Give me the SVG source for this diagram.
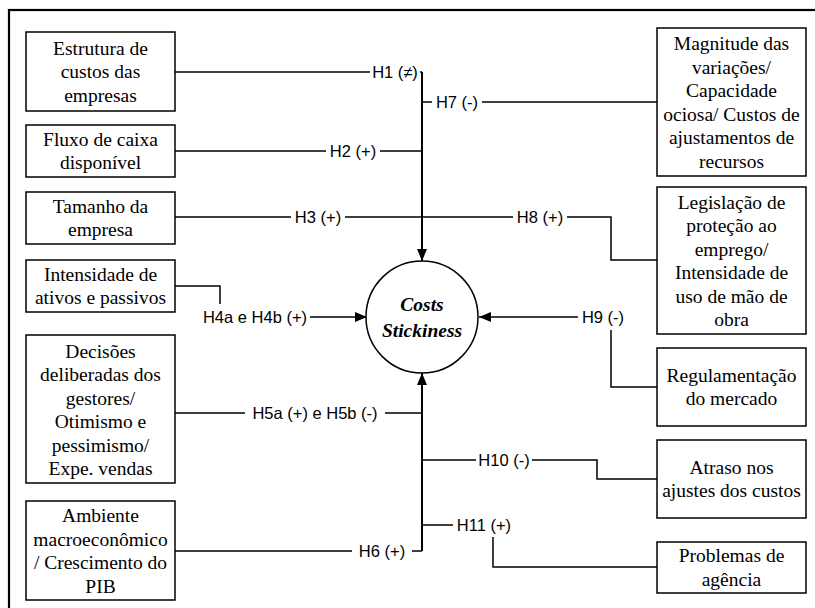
<svg xmlns="http://www.w3.org/2000/svg" width="815" height="608" viewBox="0 0 815 608">
  <style>
    .box { fill: #fff; stroke: #000; stroke-width: 1.5; }
    .bt { font-family: 'Liberation Serif', 'DejaVu Serif', 'Times New Roman', serif; font-size: 19.5px; text-anchor: middle; fill: #000; }
    .core { font-family: 'Liberation Serif', 'DejaVu Serif', 'Times New Roman', serif; font-size: 19.5px; font-weight: bold; font-style: italic; text-anchor: middle; fill: #000; }
    .lbl { font-family: 'Liberation Sans', Arial, sans-serif; font-size: 16.5px; text-anchor: middle; fill: #000; }
    .ln { fill: none; stroke: #000; stroke-width: 1.5; }
    .trunk { fill: none; stroke: #000; stroke-width: 2; }
  </style>
  <defs>
    <marker id="arrow" markerUnits="userSpaceOnUse" markerWidth="13" markerHeight="11" refX="12" refY="5" orient="auto">
      <path d="M0,0 L12,5 L0,10 z" fill="#000"/>
    </marker>
  </defs>

  <rect width="815" height="608" fill="#fff"/>
  <!-- outer frame -->
  <rect x="9" y="10" width="830" height="640" fill="none" stroke="#000" stroke-width="2.2"/>

  <!-- connectors -->
  <g id="connectors">
    <!-- H1 and upper trunk -->
    <path class="ln" d="M175,72 H370 M420,72 H422"/>
    <path class="trunk" d="M422,72 V261" marker-end="url(#arrow)"/>
    <!-- H7 -->
    <path class="ln" d="M422,102 H432 M482,102 H657"/>
    <!-- H2 -->
    <path class="ln" d="M175,151 H326 M380,151 H422"/>
    <!-- H3 / H8 -->
    <path class="ln" d="M175,217 H291 M345,217 H513 M567,217 H611 V260 H657"/>
    <!-- H4a e H4b -->
    <path class="ln" d="M175,286 H220 V304"/>
    <path class="ln" d="M310,317 H367" marker-end="url(#arrow)"/>
    <!-- H5a e H5b -->
    <path class="ln" d="M175,413 H245 M385,413 H422"/>
    <!-- H9 -->
    <path class="ln" d="M578,317 H479" marker-end="url(#arrow)"/>
    <path class="ln" d="M611,330 V387 H657"/>
    <!-- H6 and lower trunk -->
    <path class="ln" d="M175,551 H352 M412,551 H422"/>
    <path class="trunk" d="M422,551 V373" marker-end="url(#arrow)"/>
    <!-- H10 -->
    <path class="ln" d="M422,460 H476 M532,460 H597 V479 H657"/>
    <!-- H11 -->
    <path class="ln" d="M422,525 H453 M493,537 V567 H657"/>

    <text class="lbl" x="395" y="78">H1 (≠)</text>
    <text class="lbl" x="457" y="108">H7 (-)</text>
    <text class="lbl" x="353" y="157">H2 (+)</text>
    <text class="lbl" x="318" y="223">H3 (+)</text>
    <text class="lbl" x="540" y="223">H8 (+)</text>
    <text class="lbl" x="255" y="323">H4a e H4b (+)</text>
    <text class="lbl" x="315" y="419">H5a (+) e H5b (-)</text>
    <text class="lbl" x="603" y="323">H9 (-)</text>
    <text class="lbl" x="382" y="557">H6 (+)</text>
    <text class="lbl" x="504" y="466">H10 (-)</text>
    <text class="lbl" x="484" y="531">H11 (+)</text>
  </g>

  <!-- central construct -->
  <g id="costs-stickiness">
    <circle cx="422" cy="317" r="56" fill="#fff" stroke="#000" stroke-width="1.5"/>
    <text class="core" x="422" y="311">Costs</text>
    <text class="core" x="422" y="337">Stickiness</text>
  </g>

  <!-- left-hand sources -->
  <g id="estrutura">
    <rect class="box" x="26" y="32" width="149" height="79"/>
    <text class="bt" x="100.5" y="54.5">Estrutura de</text>
    <text class="bt" x="100.5" y="78">custos das</text>
    <text class="bt" x="100.5" y="101.5">empresas</text>
  </g>
  <g id="fluxo-caixa">
    <rect class="box" x="26" y="125" width="149" height="52"/>
    <text class="bt" x="100.5" y="145.8">Fluxo de caixa</text>
    <text class="bt" x="100.5" y="169.3">disponível</text>
  </g>
  <g id="tamanho">
    <rect class="box" x="26" y="192" width="149" height="52"/>
    <text class="bt" x="100.5" y="212.8">Tamanho da</text>
    <text class="bt" x="100.5" y="236.3">empresa</text>
  </g>
  <g id="intensidade-ativos">
    <rect class="box" x="26" y="260" width="149" height="52"/>
    <text class="bt" x="100.5" y="280.8">Intensidade de</text>
    <text class="bt" x="100.5" y="304.3">ativos e passivos</text>
  </g>
  <g id="decisoes">
    <rect class="box" x="26" y="335" width="149" height="148"/>
    <text class="bt" x="100.5" y="357.5">Decisões</text>
    <text class="bt" x="100.5" y="381">deliberadas dos</text>
    <text class="bt" x="100.5" y="404.5">gestores/</text>
    <text class="bt" x="100.5" y="428">Otimismo e</text>
    <text class="bt" x="100.5" y="451.5">pessimismo/</text>
    <text class="bt" x="100.5" y="475">Expe. vendas</text>
  </g>
  <g id="ambiente">
    <rect class="box" x="26" y="501" width="149" height="99"/>
    <text class="bt" x="100.5" y="522">Ambiente</text>
    <text class="bt" x="100.5" y="545.5">macroeconômico</text>
    <text class="bt" x="100.5" y="569">/ Crescimento do</text>
    <text class="bt" x="100.5" y="592.5">PIB</text>
  </g>

  <!-- right-hand sources -->
  <g id="magnitude">
    <rect class="box" x="657" y="28" width="149" height="148"/>
    <text class="bt" x="731.5" y="50">Magnitude das</text>
    <text class="bt" x="731.5" y="73.5">variações/</text>
    <text class="bt" x="731.5" y="97">Capacidade</text>
    <text class="bt" x="731.5" y="120.5">ociosa/ Custos de</text>
    <text class="bt" x="731.5" y="144">ajustamentos de</text>
    <text class="bt" x="731.5" y="167.5">recursos</text>
  </g>
  <g id="legislacao">
    <rect class="box" x="657" y="187" width="149" height="147"/>
    <text class="bt" x="731.5" y="208.5">Legislação de</text>
    <text class="bt" x="731.5" y="232">proteção ao</text>
    <text class="bt" x="731.5" y="255.5">emprego/</text>
    <text class="bt" x="731.5" y="279">Intensidade de</text>
    <text class="bt" x="731.5" y="302.5">uso de mão de</text>
    <text class="bt" x="731.5" y="326">obra</text>
  </g>
  <g id="regulamentacao">
    <rect class="box" x="657" y="348" width="149" height="78"/>
    <text class="bt" x="731.5" y="381.8">Regulamentação</text>
    <text class="bt" x="731.5" y="405.3">do mercado</text>
  </g>
  <g id="atraso">
    <rect class="box" x="657" y="440" width="149" height="78"/>
    <text class="bt" x="731.5" y="473.8">Atraso nos</text>
    <text class="bt" x="731.5" y="497.3">ajustes dos custos</text>
  </g>
  <g id="agencia">
    <rect class="box" x="657" y="542" width="149" height="51"/>
    <text class="bt" x="731.5" y="562.3">Problemas de</text>
    <text class="bt" x="731.5" y="585.8">agência</text>
  </g>
</svg>
